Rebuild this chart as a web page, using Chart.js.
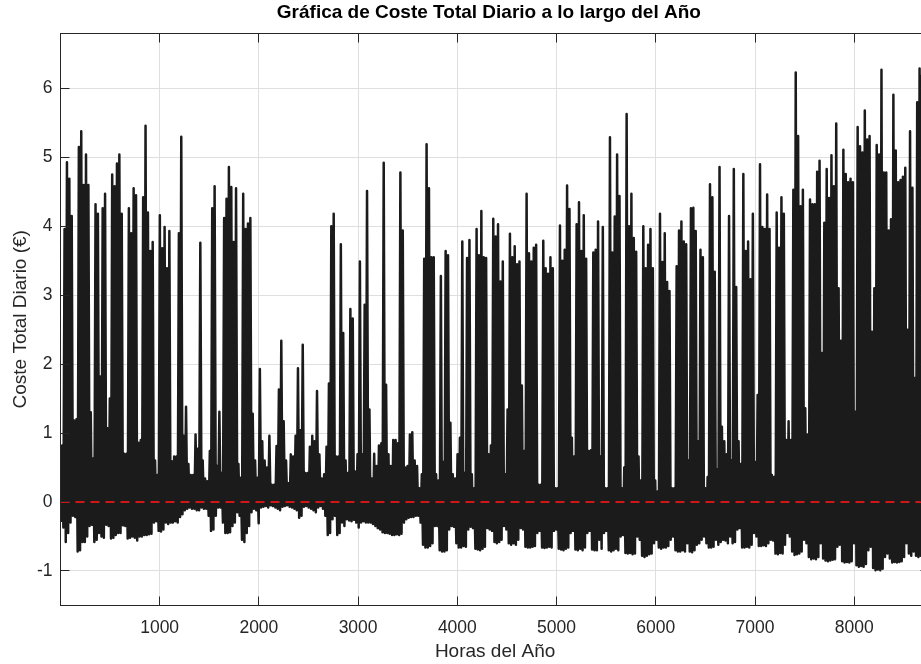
<!DOCTYPE html>
<html>
<head>
<meta charset="utf-8">
<script src="https://cdn.jsdelivr.net/npm/chart.js@4.4.1/dist/chart.umd.min.js"></script>
<style>
html, body { margin: 0; padding: 0; background: #fff; overflow: hidden; width: 921px; height: 664px; }
#wrap { width: 940px; height: 664px; position: relative; }
</style>
</head>
<body>
<div id="wrap"><canvas id="coste"></canvas></div>
<script>
// daily maximum cost (€), one value per day of the year
const dailyMax = [
  0.82, 3.96, 4.93, 4.69, 4.15, 1.18, 1.2, 5.15, 5.38, 4.6,      // 0
  5.04, 4.6, 1.3, 0.63, 4.32, 4.18, 1.82, 4.26, 4.47, 1.07,      // 10
  1.5, 4.75, 4.58, 4.91, 5.04, 4.18, 0.7, 0.7, 4.26, 3.9,        // 20
  4.55, 4.45, 0.86, 0.9, 4.42, 5.46, 4.2, 3.64, 3.77, 0.6,       // 30
  0.39, 4.16, 3.68, 3.99, 3.39, 3.93, 0.59, 0.66, 0.66, 3.9,     // 40
  5.3, 0.96, 1.38, 0.55, 0.39, 0.39, 0.98, 0.77, 3.76, 0.6,      // 50
  0.34, 0.3, 0.74, 4.26, 4.58, 0.52, 1.31, 0.42, 4.12, 4.4,      // 60
  4.86, 4.57, 3.77, 4.55, 0.55, 0.35, 4.47, 3.96, 4.04, 4.12,    // 70
  1.28, 0.6, 0.35, 1.93, 0.88, 0.6, 0.5, 0.96, 0.25, 0.25,       // 80
  0.81, 1.63, 2.34, 1.17, 0.6, 0.27, 0.69, 0.66, 0.96, 1.94,     // 90
  1.04, 2.28, 0.42, 0.42, 0.8, 0.96, 0.88, 1.61, 0.69, 0.34,     // 100
  0.4, 0.8, 1.72, 4.0, 4.18, 0.66, 0.66, 3.74, 2.45, 0.6,        // 110
  0.42, 2.8, 2.66, 0.44, 0.69, 3.49, 0.69, 2.86, 4.51, 1.34,     // 120
  0.34, 0.7, 0.52, 0.82, 0.85, 4.92, 1.7, 0.69, 0.52, 0.9,       // 130
  0.9, 0.85, 4.78, 3.94, 0.5, 0.52, 0.98, 1.01, 0.6, 0.52,       // 140
  0.2, 0.4, 3.53, 5.19, 4.55, 3.55, 3.55, 0.4, 0.31, 3.28,       // 150
  0.58, 3.64, 3.58, 1.15, 0.4, 0.34, 0.69, 0.93, 3.78, 0.42,     // 160
  3.54, 3.8, 0.4, 0.2, 3.96, 3.58, 4.22, 3.55, 3.54, 0.69,       // 170
  0.82, 4.11, 3.85, 4.03, 3.2, 3.49, 0.4, 1.34, 3.89, 3.55,      // 180
  3.71, 3.45, 3.49, 1.69, 0.74, 4.47, 3.61, 3.49, 3.69, 3.73,    // 190
  0.25, 0.25, 3.79, 3.39, 3.31, 3.55, 3.39, 0.2, 0.2, 4.01,      // 200
  3.5, 3.66, 4.59, 4.25, 0.93, 0.66, 4.03, 4.35, 3.64, 4.16,     // 210
  3.53, 0.74, 0.75, 3.62, 3.66, 4.07, 0.66, 3.99, 0.2, 0.2,      // 220
  5.29, 3.62, 4.14, 5.04, 4.44, 0.2, 0.5, 5.63, 4.0, 4.47,       // 230
  3.83, 3.63, 0.66, 0.31, 4.0, 3.39, 3.73, 3.96, 3.39, 0.31,     // 240
  0.15, 4.18, 3.48, 3.9, 3.19, 3.06, 0.2, 0.2, 3.42, 3.94,       // 250
  4.07, 3.78, 3.74, 0.6, 4.26, 4.27, 3.93, 0.88, 3.66, 3.55,     // 260
  0.2, 0.36, 4.61, 4.42, 3.34, 0.47, 4.86, 1.09, 0.88, 0.69,     // 270
  4.15, 0.6, 4.83, 3.12, 0.88, 0.55, 4.76, 3.64, 3.78, 3.23,     // 280
  4.18, 0.58, 1.55, 4.9, 3.99, 3.96, 4.46, 3.96, 0.39, 0.36,     // 290
  4.2, 3.69, 4.42, 4.18, 0.9, 1.17, 0.9, 4.53, 6.23, 5.31,       // 300
  4.29, 4.53, 1.36, 0.98, 4.39, 4.32, 4.32, 4.79, 4.95, 2.16,    // 310
  4.05, 4.83, 4.41, 5.03, 4.58, 5.49, 3.1, 2.34, 5.11, 4.76,     // 320
  4.64, 4.69, 4.64, 1.31, 5.44, 5.16, 5.07, 5.68, 5.26, 5.31,    // 330
  2.47, 3.1, 5.18, 5.04, 6.27, 4.78, 4.78, 3.94, 4.1, 5.91,      // 340
  5.1, 4.64, 4.67, 4.72, 4.85, 2.5, 5.38, 4.56, 1.8, 5.8,        // 350
  6.29, 6.2                                                      // 360
];

// daily minimum cost (€)
const dailyMin = [
  -0.29, -0.37, -0.58, -0.45, -0.3, -0.2, -0.22, -0.72, -0.7, -0.58,
  -0.58, -0.5, -0.35, -0.33, -0.58, -0.55, -0.45, -0.5, -0.52, -0.33,
  -0.35, -0.53, -0.52, -0.48, -0.45, -0.45, -0.34, -0.35, -0.53, -0.52,
  -0.5, -0.52, -0.56, -0.5, -0.5, -0.48, -0.48, -0.47, -0.46, -0.3,
  -0.28, -0.42, -0.43, -0.4, -0.3, -0.32, -0.3, -0.3, -0.28, -0.3,
  -0.22, -0.18, -0.12, -0.1, -0.08, -0.1, -0.1, -0.12, -0.12, -0.08,
  -0.1, -0.1, -0.2, -0.42, -0.4, -0.2, -0.08, -0.08, -0.3, -0.45,
  -0.45, -0.44, -0.35, -0.3, -0.15, -0.2, -0.55, -0.58, -0.45, -0.35,
  -0.15, -0.1, -0.12, -0.31, -0.08, -0.07, -0.06, -0.08, -0.05, -0.06,
  -0.08, -0.1, -0.12, -0.07, -0.06, -0.05, -0.07, -0.08, -0.1, -0.12,
  -0.23, -0.2, -0.07, -0.06, -0.08, -0.1, -0.12, -0.15, -0.08, -0.06,
  -0.1, -0.2, -0.48, -0.45, -0.25, -0.2, -0.48, -0.45, -0.3, -0.35,
  -0.25, -0.27, -0.28, -0.26, -0.3, -0.37, -0.3, -0.28, -0.3, -0.3,
  -0.3, -0.32, -0.35, -0.38, -0.4, -0.44, -0.45, -0.45, -0.46, -0.48,
  -0.48, -0.47, -0.48, -0.46, -0.3, -0.25, -0.23, -0.22, -0.22, -0.2,
  -0.2, -0.3, -0.62, -0.66, -0.66, -0.64, -0.6, -0.35, -0.35, -0.7,
  -0.72, -0.72, -0.7, -0.4, -0.35, -0.36, -0.6, -0.66, -0.66, -0.64,
  -0.65, -0.4, -0.36, -0.38, -0.68, -0.69, -0.7, -0.68, -0.65, -0.38,
  -0.4, -0.42, -0.58, -0.6, -0.58, -0.55, -0.35, -0.4, -0.6, -0.62,
  -0.6, -0.62, -0.55, -0.38, -0.4, -0.65, -0.66, -0.66, -0.65, -0.64,
  -0.45, -0.42, -0.66, -0.67, -0.66, -0.65, -0.66, -0.42, -0.4, -0.68,
  -0.69, -0.7, -0.68, -0.66, -0.45, -0.42, -0.69, -0.7, -0.68, -0.7,
  -0.66, -0.45, -0.42, -0.69, -0.7, -0.7, -0.55, -0.68, -0.45, -0.42,
  -0.7, -0.72, -0.7, -0.68, -0.7, -0.5, -0.48, -0.74, -0.75, -0.74,
  -0.76, -0.75, -0.5, -0.55, -0.78, -0.8, -0.78, -0.76, -0.75, -0.6,
  -0.55, -0.66, -0.68, -0.66, -0.66, -0.64, -0.55, -0.5, -0.7, -0.72,
  -0.72, -0.7, -0.72, -0.6, -0.72, -0.73, -0.7, -0.62, -0.6, -0.55,
  -0.5, -0.6, -0.66, -0.66, -0.65, -0.55, -0.62, -0.58, -0.55, -0.56,
  -0.6, -0.5, -0.6, -0.58, -0.4, -0.38, -0.66, -0.66, -0.65, -0.66,
  -0.62, -0.45, -0.5, -0.64, -0.64, -0.63, -0.64, -0.6, -0.55, -0.56,
  -0.75, -0.76, -0.74, -0.75, -0.62, -0.45, -0.5, -0.72, -0.77, -0.76,
  -0.75, -0.72, -0.55, -0.6, -0.8, -0.83, -0.82, -0.83, -0.8, -0.6,
  -0.82, -0.85, -0.86, -0.85, -0.84, -0.83, -0.65, -0.62, -0.86, -0.88,
  -0.87, -0.88, -0.86, -0.6, -0.92, -0.94, -0.93, -0.94, -0.9, -0.7,
  -0.65, -0.96, -0.99, -0.98, -0.99, -0.97, -0.8, -0.75, -0.82, -0.88,
  -0.87, -0.88, -0.87, -0.86, -0.8, -0.6, -0.75, -0.78, -0.72, -0.78,
  -0.8, -0.78
];

const xTickValues = [1000, 2000, 3000, 4000, 5000, 6000, 7000, 8000];
const yTickValues = [-1, 0, 1, 2, 3, 4, 5, 6];
const zeroLevel = 0;
const hoursInYear = 8760;

// each day: low point in the morning hours, high point in the evening
const costPoints = [];
dailyMax.forEach((hi, d) => {
  costPoints.push({ x: d * 24 + 6, y: dailyMin[d] });
  costPoints.push({ x: d * 24 + 18, y: hi });
});

const FONT = "'Liberation Sans', Arial, Helvetica, sans-serif";

// box round the axes plus inward tick marks (matlab look)
const axesBox = {
  id: 'axesBox',
  afterDraw(chart) {
    const { ctx, chartArea: a, scales: { x, y } } = chart;
    const L = Math.floor(a.left) + 0.5, R = Math.floor(a.right) + 0.5;
    const T = Math.floor(a.top) + 0.5, B = Math.floor(a.bottom) + 0.5;
    ctx.save();
    ctx.strokeStyle = '#262626';
    ctx.lineWidth = 1;
    ctx.strokeRect(L, T, R - L, B - T);
    ctx.beginPath();
    xTickValues.forEach(v => {
      const px = Math.floor(x.getPixelForValue(v)) + 0.5;
      ctx.moveTo(px, B); ctx.lineTo(px, B - 9);
      ctx.moveTo(px, T); ctx.lineTo(px, T + 9);
    });
    yTickValues.forEach(v => {
      const py = Math.floor(y.getPixelForValue(v)) + 0.5;
      ctx.moveTo(L, py); ctx.lineTo(L + 9, py);
      ctx.moveTo(R, py); ctx.lineTo(R - 9, py);
    });
    ctx.stroke();
    ctx.restore();
  }
};

new Chart(document.getElementById('coste'), {
  type: 'line',
  data: {
    datasets: [
      {
        label: 'Cero',
        data: [{ x: 1, y: zeroLevel }, { x: hoursInYear, y: zeroLevel }],
        borderColor: '#d01616',
        borderWidth: 2,
        borderDash: [9, 6],
        pointRadius: 0,
        order: 0
      },
      {
        label: 'Coste Total Diario',
        data: costPoints,
        borderColor: '#1b1b1b',
        borderWidth: 2.5,
        borderJoinStyle: 'round',
        pointRadius: 0,
        tension: 0,
        order: 1
      }
    ]
  },
  options: {
    animation: false,
    responsive: true,
    maintainAspectRatio: false,
    devicePixelRatio: 1,
    events: [],
    layout: { padding: { left: 48, right: 10.3, top: 0, bottom: 0 } },
    plugins: {
      legend: { display: false },
      tooltip: { enabled: false },
      title: {
        display: true,
        text: 'Gráfica de Coste Total Diario a lo largo del Año',
        color: '#000',
        font: { family: FONT, size: 19, weight: 'bold' },
        padding: { top: 1.6, bottom: 8.9 }
      }
    },
    scales: {
      x: {
        type: 'linear',
        min: 1,
        max: hoursInYear,
        afterBuildTicks: s => { s.ticks = xTickValues.map(v => ({ value: v })); },
        afterFit: s => { s.height = 58.7; },
        grid: { color: '#dfdfdf', drawTicks: false },
        border: { display: false },
        ticks: {
          autoSkip: false, maxRotation: 0, padding: 12, color: '#262626',
          font: { family: FONT, size: 17.5 },
          callback: v => String(v)
        },
        title: {
          display: true, text: 'Horas del Año', color: '#262626',
          font: { family: FONT, size: 19 },
          padding: { top: 0, bottom: 0.9 }
        }
      },
      y: {
        min: -1.5,
        max: 6.8,
        afterBuildTicks: s => { s.ticks = yTickValues.map(v => ({ value: v })); },
        afterFit: s => {
          s.width = 12.5;
          s._computeLabelArea = () => undefined;  // labels sit left of the narrow box, don't clip them
        },
        grid: { color: '#dfdfdf', drawTicks: false },
        border: { display: false },
        ticks: {
          padding: 8, color: '#262626',
          font: { family: FONT, size: 17.5 },
          callback: v => String(v)
        },
        title: {
          display: true, text: 'Coste Total Diario (€)', color: '#262626',
          font: { family: FONT, size: 19 },
          padding: { top: -38.9, bottom: 0 }
        }
      }
    }
  },
  plugins: [axesBox]
});
</script>
</body>
</html>
